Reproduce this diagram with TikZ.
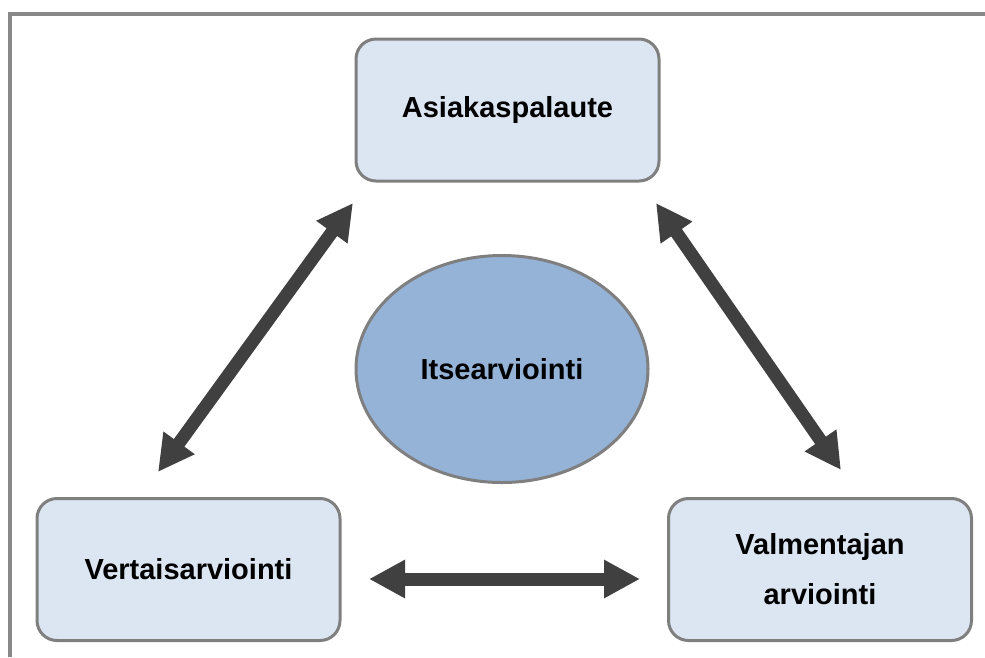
\documentclass[tikz,border=0pt]{standalone}
\usepackage{fontspec}
\setmainfont{Liberation Sans}
\usetikzlibrary{arrows.meta,shapes.geometric}
\definecolor{framegray}{HTML}{888888}
\definecolor{boxedge}{HTML}{7F7F7F}
\definecolor{boxfill}{HTML}{DCE6F2}
\definecolor{ovalfill}{HTML}{95B3D7}
\definecolor{arrowdark}{HTML}{404040}
\tikzset{
  boxnode/.style={draw=boxedge, line width=3pt, fill=boxfill, rounded corners=20pt,
    minimum width=303pt, minimum height=142pt, inner sep=0pt, align=center,
    font=\bfseries\fontsize{29}{50}\selectfont},
  ovalnode/.style={ellipse, draw=boxedge, line width=3pt, fill=ovalfill,
    minimum width=292pt, minimum height=227pt, inner sep=0pt,
    font=\bfseries\fontsize{29}{50}\selectfont},
  twoway/.style={draw=arrowdark, line width=13pt,
    {Triangle[length=36pt,width=36pt]}-{Triangle[length=36pt,width=36pt]}},
  frameline/.style={draw=framegray, line width=4pt}
}
\begin{document}
\begin{tikzpicture}[x=1pt,y=-1pt]
  \useasboundingbox (0,0) rectangle (985,657);
  % open frame along the top and left
  \draw[frameline] (10,657) -- (10,14) -- (985,14);

  \node[boxnode] (asia) at (507.5,110) {Asiakaspalaute};
  \node[boxnode] (vert) at (188.5,569.5) {Vertaisarviointi};
  \node[boxnode] (valm) at (820,569.5) {Valmentajan\\arviointi};
  \node[ovalnode] (itse) at (502,369) {Itsearviointi};

  % arrow end points between the boxes
  \coordinate (lv) at (158,472);
  \coordinate (la) at (353,203);
  \coordinate (ra) at (656,203);
  \coordinate (rv) at (841,470);
  \coordinate (hl) at (369,579);
  \coordinate (hr) at (640,579);

  \draw[twoway] (lv) -- (la);
  \draw[twoway] (ra) -- (rv);
  \draw[twoway] (hl) -- (hr);
\end{tikzpicture}
\end{document}
